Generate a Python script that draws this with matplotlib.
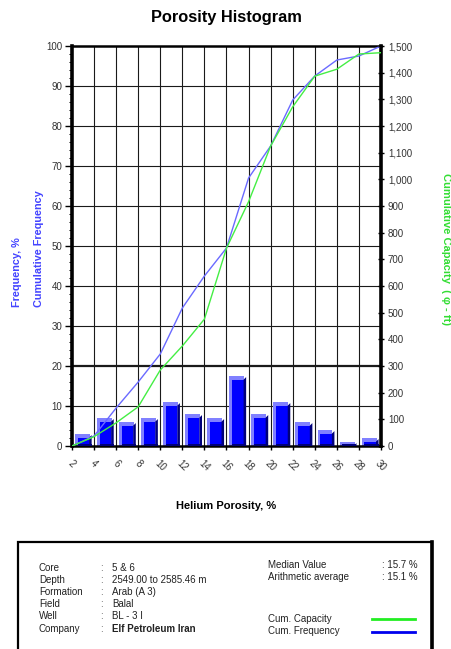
import matplotlib.pyplot as plt
from matplotlib.patches import Rectangle, Polygon
from matplotlib.lines import Line2D

plt.rcParams['font.family'] = ['Liberation Sans', 'DejaVu Sans']

# porosity classes (left edge of each bin) and frequency, %
bin_left = [2, 4, 6, 8, 10, 12, 14, 16, 18, 20, 22, 24, 26, 28]
freq = [3, 7, 6, 7, 11, 8, 7, 17.5, 8, 11, 6, 4, 1, 2]

# cumulative curves at bin edges
edges = [2, 4, 6, 8, 10, 12, 14, 16, 18, 20, 22, 24, 26, 28, 30]
cum_freq = [0, 2.5, 9.5, 16, 23, 34.5, 42.5, 49.5, 67, 75, 86.5, 92.5, 96.5, 97.5, 100]
cum_cap = [0, 35, 87, 147, 285, 375, 476, 742, 916, 1125, 1272, 1387, 1413, 1470, 1475]

info_keys = ['Core', 'Depth', 'Formation', 'Field', 'Well', 'Company']
info_vals = ['5 & 6', '2549.00 to 2585.46 m', 'Arab (A 3)', 'Balal', 'BL - 3 I', 'Elf Petroleum Iran']
stats_keys = ['Median Value', 'Arithmetic average']
stats_vals = [': 15.7 %', ': 15.1 %']

fig = plt.figure(figsize=(4.52, 6.49), dpi=100)
ax = fig.add_axes([0.1593, 0.3128, 0.6836, 0.6163])
ax.set_xlim(2, 30)
ax.set_ylim(0, 100)

# grid
for x in edges[1:-1]:
    ax.axvline(x, color='#1a1a1a', lw=0.8, zorder=1)
for y in range(10, 100, 10):
    ax.axhline(y, color='#1a1a1a', lw=1.6 if y == 20 else 0.8, zorder=1)

# pseudo 3D bars
for x0, h in zip(bin_left, freq):
    d = 0.9
    ax.add_patch(Rectangle((x0 + 0.25, 0), 1.35, h, facecolor='#8080ff', edgecolor='none', zorder=2))
    ax.add_patch(Rectangle((x0 + 0.5, 0), 1.05, h - d, facecolor='#0000ff', edgecolor='none', zorder=3))
    ax.add_patch(Polygon([(x0 + 1.55, 0), (x0 + 1.78, 0), (x0 + 1.78, h - d * 0.3),
                          (x0 + 1.55, h - d)], closed=True, facecolor='#00007a', edgecolor='none', zorder=3))
    ax.add_patch(Rectangle((x0 + 0.5, 0), 1.28, 0.6, facecolor='#00007a', edgecolor='none', zorder=3))

ax.plot(edges, cum_freq, color='#6a6aff', lw=1, zorder=5)

for s in ['left', 'right']:
    ax.spines[s].set_linewidth(2.6)
for s in ['top', 'bottom']:
    ax.spines[s].set_linewidth(1.8)

ax.set_yticks(range(0, 101, 10))
ax.set_yticks(range(0, 101, 2), minor=True)
ax.set_xticks(edges)
ax.set_xticklabels([str(e) for e in edges], rotation=-45, ha='center', va='top')
ax.tick_params(axis='y', which='major', length=5, width=1, labelsize=7, labelcolor='#333333', pad=2)
ax.tick_params(axis='y', which='minor', length=2.5, width=0.7)
ax.tick_params(axis='x', length=3, width=1, labelsize=7, labelcolor='#333333', pad=6)

ax2 = ax.twinx()
ax2.set_ylim(0, 1500)
ax2.plot(edges, cum_cap, color='#44ee44', lw=1, zorder=5)
ax2.set_yticks(range(0, 1501, 100))
ax2.set_yticklabels(['{:,}'.format(v) for v in range(0, 1501, 100)])
ax2.tick_params(axis='y', length=4, width=1, direction='inout', labelsize=7, labelcolor='#333333', pad=3)
for s in ax2.spines.values():
    s.set_visible(False)

fig.text(0.5, 0.973, 'Porosity Histogram', ha='center', va='center', fontsize=11.8, fontweight='bold')
fig.text(0.5, 0.22, 'Helium Porosity, %', ha='center', va='center', fontsize=8, fontweight='bold')
fig.text(17 / 452, 0.581, 'Frequency, %', rotation=90, ha='center', va='center', fontsize=7.8,
         fontweight='bold', color='#4444ff')
fig.text(39 / 452, 0.617, 'Cumulative Frequency', rotation=90, ha='center', va='center', fontsize=7.8,
         fontweight='bold', color='#4444ff')
fig.text(446 / 452, 0.617, 'Cumulative Capacity  ( \u03c6 - ft)', rotation=-90, ha='center', va='center',
         fontsize=8, fontweight='bold', color='#33dd33')

# information box
fig.patches.append(Rectangle((18 / 452, -0.02), 414 / 452, (649 - 542) / 649 + 0.02,
                             transform=fig.transFigure, facecolor='white', edgecolor='black', lw=1.6))
fig.lines.append(Line2D([432 / 452, 432 / 452], [0, 1 - 542 / 649], transform=fig.transFigure,
                        color='black', lw=2.6))
for i, (k, v) in enumerate(zip(info_keys, info_vals)):
    y = 1 - (568 + 12.1 * i) / 649
    fig.text(39 / 452, y, k, fontsize=7, va='center', color='#222222')
    fig.text(100 / 452, y, ':', fontsize=7, va='center', color='#555555')
    fig.text(112 / 452, y, v, fontsize=7, va='center', color='#222222',
             fontweight='bold' if k == 'Company' else 'normal')
for i, (k, v) in enumerate(zip(stats_keys, stats_vals)):
    y = 1 - (565 + 12 * i) / 649
    fig.text(268 / 452, y, k, fontsize=7, va='center', color='#222222')
    fig.text(382 / 452, y, v, fontsize=7, va='center', color='#222222')
for i, (k, c) in enumerate([('Cum. Capacity', '#22ee22'), ('Cum. Frequency', '#0000ee')]):
    y = 1 - (619 + 12.5 * i) / 649
    fig.text(268 / 452, y, k, fontsize=7, va='center', color='#222222')
    fig.lines.append(Line2D([372 / 452, 415 / 452], [y, y], transform=fig.transFigure, color=c, lw=2))

fig.savefig('out.png', dpi=100)
